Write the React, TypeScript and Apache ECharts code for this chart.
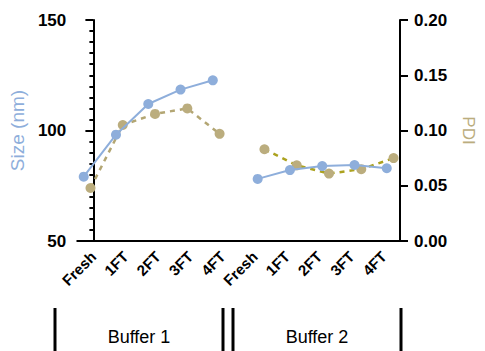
import React, { useEffect, useRef } from "react";
import * as echarts from "echarts";

const categories = ["Fresh", "1FT", "2FT", "3FT", "4FT", "Fresh", "1FT", "2FT", "3FT", "4FT"];
const groups = ["Buffer 1", "Buffer 2"];
const sizeBuffer1 = [79.1, 98.1, 112.0, 118.5, 122.7];
const sizeBuffer2 = [78.1, 82.1, 83.9, 84.4, 82.9];
const pdiBuffer1 = [0.048, 0.105, 0.115, 0.120, 0.097];
const pdiBuffer2 = [0.083, 0.0685, 0.061, 0.065, 0.075];
const sizeTicks = [50, 150, 50]; // min, max, interval
const pdiTicks = [0, 0.2, 0.05];

const BLUE = "#8eaedb";
const TAN = "#bbad7e";
const TAN_LINE1 = "#b3a673";
const TAN_LINE2 = "#aca21f";

export default function App() {
  const ref = useRef<HTMLDivElement>(null);
  useEffect(() => {
    if (!ref.current) return;
    const chart = echarts.init(ref.current, undefined, { renderer: "svg" });
    const pts = (vals: number[], start: number, off: number) =>
      vals.map((v, i) => [start + i + off, v]);
    const font = "Arial, 'Liberation Sans', sans-serif";
    chart.setOption({
      animation: false,
      textStyle: { fontFamily: font },
      grid: { left: 74, right: 80, top: 20, bottom: 110, containLabel: false },
      xAxis: [
        {
          type: "category",
          data: categories,
          boundaryGap: true,
          axisLine: { lineStyle: { color: "#000", width: 2 } },
          axisTick: { alignWithLabel: true, length: 8, lineStyle: { width: 2, color: "#000" } },
          axisLabel: {
            rotate: 45,
            margin: 13,
            color: "#000",
            fontWeight: "bold",
            fontSize: 15,
            fontFamily: font,
            interval: 0,
          },
        },
        { type: "value", min: -0.5, max: 9.5, show: false },
      ],
      yAxis: [
        {
          type: "value",
          min: sizeTicks[0],
          max: sizeTicks[1],
          interval: sizeTicks[2],
          name: "Size (nm)",
          nameLocation: "middle",
          nameRotate: 90,
          nameGap: 47,
          nameTextStyle: { color: BLUE, fontSize: 19, fontFamily: font },
          axisLine: { show: true, lineStyle: { color: "#000", width: 2 } },
          axisTick: { show: true, length: 8, lineStyle: { width: 2, color: "#000" } },
          minorTick: { show: true, splitNumber: 10, length: 4, lineStyle: { width: 2, color: "#000" } },
          splitLine: { show: false },
          axisLabel: { color: "#000", fontWeight: "bold", fontSize: 17, margin: 11, fontFamily: font },
        },
        {
          type: "value",
          position: "right",
          min: pdiTicks[0],
          max: pdiTicks[1],
          interval: pdiTicks[2],
          name: "PDI",
          nameLocation: "middle",
          nameRotate: -90,
          nameGap: 60,
          nameTextStyle: { color: TAN, fontSize: 17, fontFamily: font },
          axisLine: { show: true, lineStyle: { color: "#000", width: 2 } },
          axisTick: { show: true, length: 8, lineStyle: { width: 2, color: "#000" } },
          splitLine: { show: false },
          axisLabel: {
            color: "#000",
            fontWeight: "bold",
            fontSize: 17,
            margin: 14,
            fontFamily: font,
            formatter: (v: number) => v.toFixed(2),
          },
        },
      ],
      series: [
        {
          type: "line",
          xAxisIndex: 1,
          yAxisIndex: 0,
          data: pts(sizeBuffer1, 0, -0.3),
          symbol: "circle",
          symbolSize: 10,
          itemStyle: { color: BLUE },
          lineStyle: { color: BLUE, width: 2 },
          z: 3,
        },
        {
          type: "line",
          xAxisIndex: 1,
          yAxisIndex: 0,
          data: pts(sizeBuffer2, 5, 0.09),
          symbol: "circle",
          symbolSize: 10,
          itemStyle: { color: BLUE },
          lineStyle: { color: BLUE, width: 2 },
          z: 3,
        },
        {
          type: "line",
          xAxisIndex: 1,
          yAxisIndex: 1,
          data: pts(pdiBuffer1, 0, -0.09),
          symbol: "circle",
          symbolSize: 10,
          itemStyle: { color: TAN },
          lineStyle: { color: TAN_LINE1, width: 2.5, type: [5, 5] },
          z: 2,
        },
        {
          type: "line",
          xAxisIndex: 1,
          yAxisIndex: 1,
          data: pts(pdiBuffer2, 5, 0.3),
          symbol: "circle",
          symbolSize: 10,
          itemStyle: { color: TAN },
          lineStyle: { color: TAN_LINE2, width: 2.5, type: [5, 5] },
          z: 2,
        },
      ],
      graphic: [
        { type: "line", shape: { x1: 55, y1: 308, x2: 55, y2: 351 }, style: { stroke: "#000", lineWidth: 3 } },
        { type: "line", shape: { x1: 223, y1: 308, x2: 223, y2: 351 }, style: { stroke: "#000", lineWidth: 3 } },
        { type: "line", shape: { x1: 233, y1: 308, x2: 233, y2: 351 }, style: { stroke: "#000", lineWidth: 3 } },
        { type: "line", shape: { x1: 401, y1: 308, x2: 401, y2: 351 }, style: { stroke: "#000", lineWidth: 3 } },
        {
          type: "text",
          x: 139,
          y: 337,
          style: { text: groups[0], fill: "#000", font: `18px ${font}`, textAlign: "center", textVerticalAlign: "middle" },
        },
        {
          type: "text",
          x: 317,
          y: 337,
          style: { text: groups[1], fill: "#000", font: `18px ${font}`, textAlign: "center", textVerticalAlign: "middle" },
        },
      ],
    });
    return () => chart.dispose();
  }, []);
  return <div ref={ref} style={{ width: 485, height: 351, position: "absolute", left: 0, top: 0 }} />;
}
